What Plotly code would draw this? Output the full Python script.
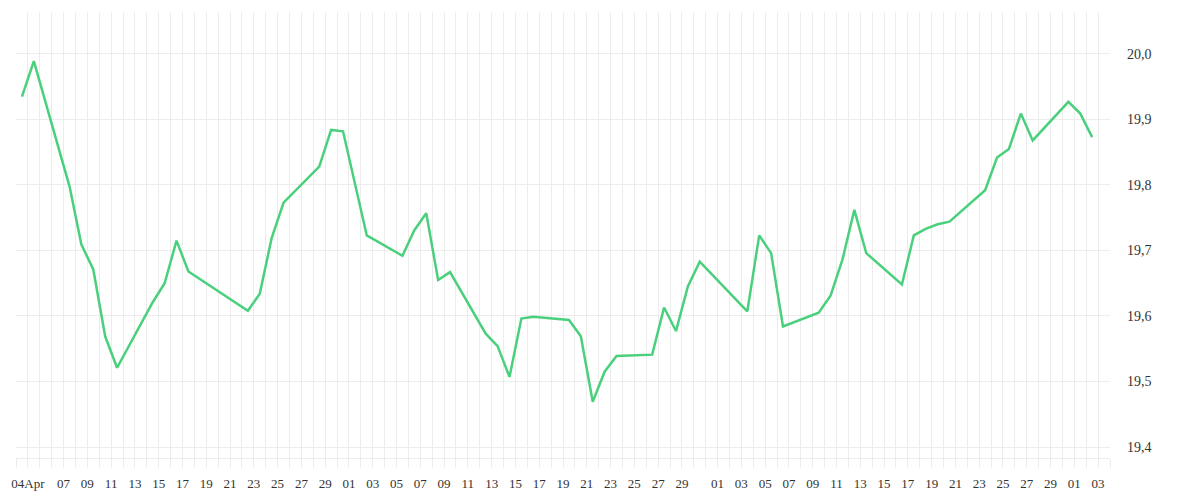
import pandas as pd
import plotly.graph_objects as go

# trading days (points sit at midday)
dates = [
    "2025-04-03", "2025-04-04", "2025-04-07", "2025-04-08", "2025-04-09", "2025-04-10",
    "2025-04-11", "2025-04-14", "2025-04-15", "2025-04-16", "2025-04-17", "2025-04-22",
    "2025-04-23", "2025-04-24", "2025-04-25", "2025-04-28", "2025-04-29", "2025-04-30",
    "2025-05-02", "2025-05-05", "2025-05-06", "2025-05-07", "2025-05-08", "2025-05-09",
    "2025-05-12", "2025-05-13", "2025-05-14", "2025-05-15", "2025-05-16", "2025-05-19",
    "2025-05-20", "2025-05-21", "2025-05-22", "2025-05-23", "2025-05-26", "2025-05-27",
    "2025-05-28", "2025-05-29", "2025-05-30", "2025-06-02", "2025-06-03", "2025-06-04",
    "2025-06-05", "2025-06-06", "2025-06-09", "2025-06-10", "2025-06-11", "2025-06-12",
    "2025-06-13", "2025-06-16", "2025-06-17", "2025-06-18", "2025-06-19", "2025-06-20",
    "2025-06-23", "2025-06-24", "2025-06-25", "2025-06-26", "2025-06-27", "2025-06-30",
    "2025-07-01", "2025-07-02",
]
values = [
    19.935, 19.989, 19.798, 19.709, 19.671, 19.569,
    19.521, 19.621, 19.650, 19.715, 19.668, 19.608,
    19.634, 19.719, 19.773, 19.828, 19.884, 19.882,
    19.723, 19.692, 19.731, 19.757, 19.655, 19.667,
    19.573, 19.554, 19.507, 19.596, 19.599, 19.594,
    19.569, 19.469, 19.515, 19.539, 19.541, 19.613,
    19.577, 19.645, 19.683, 19.625, 19.607, 19.723,
    19.696, 19.584, 19.605, 19.631, 19.686, 19.762,
    19.696, 19.648, 19.723, 19.733, 19.740, 19.744,
    19.792, 19.842, 19.855, 19.909, 19.868, 19.927,
    19.909, 19.873,
]

# labelled ticks on the date axis
tick_dates = (["2025-04-04"]
              + [f"2025-04-{d:02d}" for d in range(7, 30, 2)]
              + [f"2025-05-{d:02d}" for d in range(1, 30, 2)]
              + [f"2025-06-{d:02d}" for d in range(1, 30, 2)]
              + ["2025-07-01", "2025-07-03"])
tick_text = ["04Apr"] + [d[-2:] for d in tick_dates[1:]]

y_ticks = [19.4, 19.5, 19.6, 19.7, 19.8, 19.9, 20.0]

x = pd.to_datetime(dates) + pd.Timedelta(hours=12)

grid = "#ececec"

fig = go.Figure()
fig.add_trace(go.Scatter(x=x, y=values, mode="lines",
                         line=dict(color="#4ad07c", width=2.5),
                         hoverinfo="x+y"))

# page body adds 8px, margins compensate for it
fig.update_layout(
    width=1200, height=500,
    margin=dict(l=8, r=98, t=4, b=50, autoexpand=False),
    paper_bgcolor="white", plot_bgcolor="white",
    showlegend=False,
    separators=",.",
    font=dict(family="Liberation Serif", size=12, color="#333333"),
)

fig.update_xaxes(
    type="date", automargin=False,
    range=["2025-04-03", "2025-07-04"],
    tickvals=pd.to_datetime(tick_dates), ticktext=tick_text,
    showgrid=True, gridcolor=grid, gridwidth=1,
    ticks="outside", ticklen=9, tickcolor=grid,
    minor=dict(dtick=86400000, tick0="2025-04-03", showgrid=True,
               gridcolor=grid, ticks="outside", ticklen=9, tickcolor=grid),
    showline=True, linecolor=grid, linewidth=1,
    zeroline=False, ticklabelstandoff=4,
    tickfont=dict(family="Liberation Serif", size=13, color="#333333"),
)

fig.update_yaxes(
    side="right", automargin=False,
    range=[19.3832, 20.0641],
    tickvals=y_ticks, tickformat=".1f",
    showgrid=True, gridcolor=grid, gridwidth=1,
    ticks="", ticklabelstandoff=16,
    zeroline=False, showline=False,
    tickfont=dict(family="Liberation Serif", size=14, color="#333333"),
)

fig.write_html("out.html")
